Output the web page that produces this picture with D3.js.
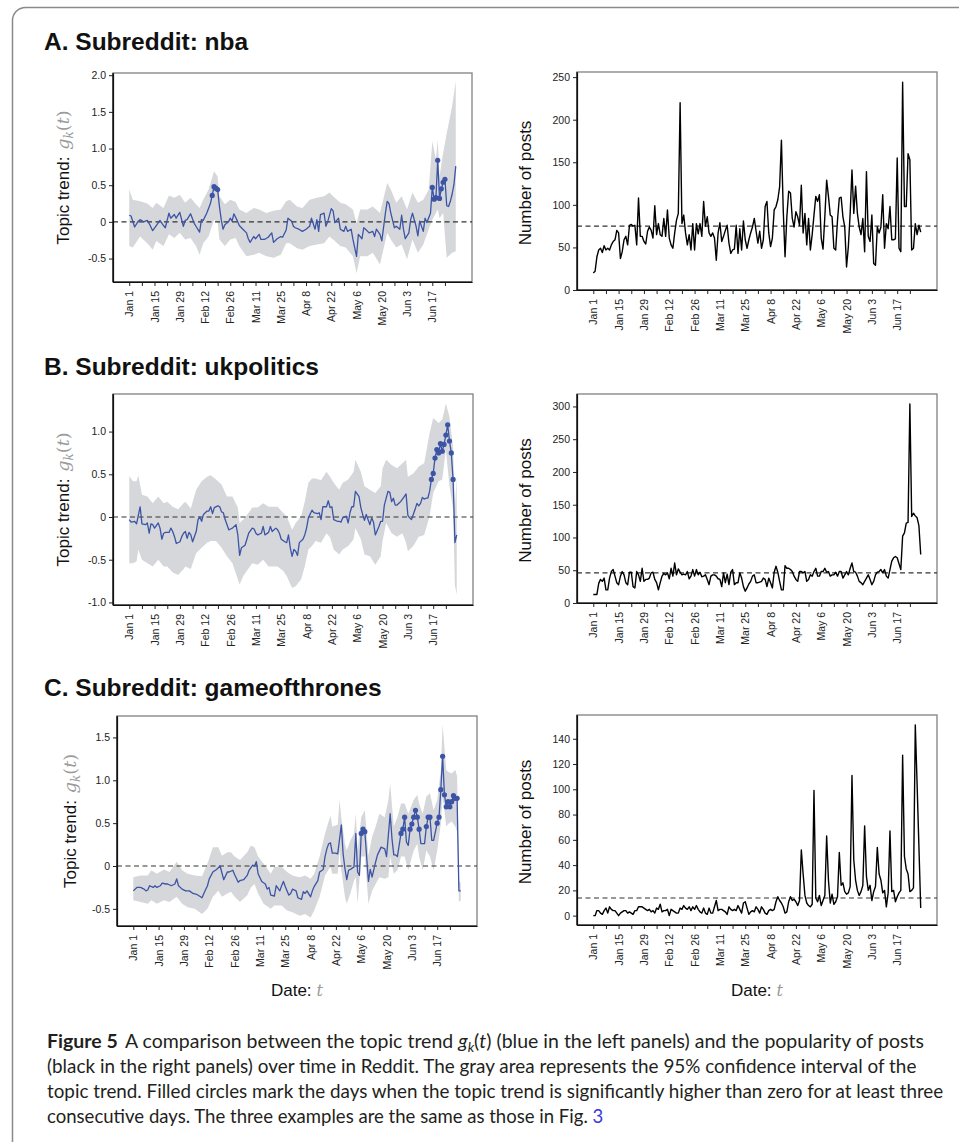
<!DOCTYPE html>
<html>
<head>
<meta charset="utf-8">
<script src="https://cdn.jsdelivr.net/npm/d3@7"></script>
<style>
  body { margin: 0; background: #fff; }
  svg { display: block; }
</style>
</head>
<body>
<svg id="fig" width="959" height="1142"></svg>
<script>
// ---- shared axis data ----
const dayLabels = ["Jan 1", "Jan 15", "Jan 29", "Feb 12", "Feb 26", "Mar 11", "Mar 25",
  "Apr 8", "Apr 22", "May 6", "May 20", "Jun 3", "Jun 17"];
const labelDays = [0, 14, 28, 42, 56, 70, 84, 98, 112, 126, 140, 154, 168];
const minorDays = [7, 21, 35, 49, 63, 77, 91, 105, 119, 133, 147, 161, 175];

// ---- A. nba ----
const nbaTrendTicks = [-0.5, 0, 0.5, 1.0, 1.5, 2.0];
const nbaPostTicks = [0, 50, 100, 150, 200, 250];
const nbaTrend = [[0,.09],[1,.08],[3,-.07],[5,.01],[6,.03],[8,0],[10,.02],[11,-.02],[13,-.12],[15,-.05],[17,.02],[19,-.05],[20,-.08],[22,.12],[23,.05],[25,.1],[26,.05],[28,.13],[30,-.06],[31,.02],[32,.03],[34,.11],[36,-.02],[37,-.06],[39,-.14],[40,.03],[41,.02],[43,.12],[45,.25],[46,.36],[47,.48],[48,.46],[49,.44],[50,.21],[51,.03],[52,-.1],[53,-.04],[55,0],[56,.05],[57,.01],[58,.11],[60,.01],[61,-.05],[63,-.1],[65,-.15],[66,-.23],[67,-.28],[69,-.2],[70,-.23],[72,-.17],[73,-.24],[75,-.24],[77,-.21],[79,-.15],[80,-.28],[82,-.23],[84,-.2],[85,-.21],[87,-.11],[88,.05],[90,.01],[91,-.06],[92,-.08],[94,-.1],[96,-.13],[98,-.1],[100,-.06],[101,.05],[103,-.1],[104,.03],[105,-.13],[106,.1],[108,.12],[109,-.06],[110,0],[112,.18],[113,.15],[114,-.01],[116,.05],[117,-.1],[119,-.13],[120,-.06],[121,-.13],[123,-.1],[124,-.24],[126,-.47],[127,-.17],[129,-.23],[130,-.08],[131,-.1],[133,-.15],[135,-.13],[136,-.2],[137,-.1],[139,-.17],[140,-.26],[142,.12],[143,.28],[144,.25],[145,.12],[147,-.08],[148,-.06],[150,-.1],[151,.09],[152,-.1],[153,-.23],[155,-.15],[156,.03],[157,.12],[159,-.06],[160,-.19],[161,.01],[163,-.13],[164,.05],[165,-.01],[167,.12],[168,.47],[169,.31],[170,.33],[171,.84],[172,.32],[173,.45],[174,.54],[175,.58],[176,.22],[177,.21],[178,.28],[179,.38],[180,.51],[181,.76]];
const nbaSig = [46, 47, 48, 49, 168, 169, 170, 171, 172, 173, 174, 175];
const nbaBand = [[0,-.33,.44],[2,-.35,.30],[6,-.20,.28],[10,-.29,.25],[13,-.38,.19],[15,-.26,.26],[19,-.33,.19],[22,-.17,.36],[25,-.22,.33],[28,-.15,.37],[31,-.24,.26],[34,-.22,.33],[37,-.33,.24],[39,-.45,.19],[41,-.29,.30],[44,-.20,.44],[47,.03,.69],[49,-.01,.62],[50,-.24,.35],[53,-.33,.24],[56,-.24,.30],[59,-.22,.27],[61,-.33,.17],[65,-.47,.12],[69,-.45,.19],[72,-.42,.17],[76,-.47,.12],[80,-.49,.15],[84,-.45,.17],[87,-.29,.28],[89,-.29,.30],[93,-.36,.21],[96,-.38,.19],[100,-.33,.30],[104,-.31,.33],[108,-.29,.35],[111,-.20,.40],[113,-.24,.35],[117,-.33,.26],[120,-.35,.24],[124,-.47,.17],[126,-.70,-.02],[128,-.47,.17],[132,-.47,.17],[135,-.42,.21],[139,-.58,.12],[143,-.15,.53],[145,-.24,.44],[148,-.35,.26],[151,-.31,.35],[154,-.51,.17],[157,-.24,.40],[160,-.42,.26],[163,-.31,.30],[166,-.10,.44],[168,.03,1.10],[170,.12,.85],[171,.17,1.12],[172,.05,.62],[174,.12,.94],[176,-.49,1.21],[179,-.42,1.58],[181,-.40,1.92]];
const nbaPosts = [20,22,39,47,49,44,52,47,49,47, 53,57,59,70,67,37,45,59,63,53,
  76,77,75,76,53,108,63,63,57,54, 69,74,70,61,99,65,78,65,63,84, 63,94,61,53,49,67,82,90,220,
  78,88,67,53,65,47,78,47,78,66, 78,63,104,75,86,67,63,67,61,35, 67,79,57,63,70,76,55,43,47,48,
  76,43,72,47,81,59,49,59,67,74, 84,69,55,69,49,59,98,104,67,51, 61,94,98,106,121,176,
  94,39,86,116,114,84,74,92,86,76, 123,67,90,53,84,47,65,88,110,104, 112,61,48,86,129,110,88,86,49,47,
  82,108,109,86,74,27,51,90,141, 90,122,90,74,65,84,45,139,63,57, 88,31,29,74,67,74,112,49,78,72,
  98,59,59,60,155,49,45,244, 98,98,160,153,47,49,78,65,76,68];
const nbaMean = 75;

// ---- B. ukpolitics ----
const ukTrendTicks = [-1.0, -0.5, 0, 0.5, 1.0];
const ukPostTicks = [0, 50, 100, 150, 200, 250, 300];
const ukTrend = [[0,-.03],[1,-.06],[3,-.05],[4,-.08],[5,.02],[6,.12],[7,-.08],[9,-.09],[10,-.07],[11,-.19],[12,-.08],[13,-.09],[14,-.13],[16,-.07],[17,-.13],[18,-.26],[19,-.19],[20,-.18],[22,-.18],[23,-.13],[24,-.17],[25,-.23],[26,-.31],[28,-.29],[29,-.23],[30,-.19],[31,-.17],[32,-.25],[33,-.18],[34,-.21],[35,-.29],[37,-.17],[38,-.03],[39,0],[40,-.05],[41,.03],[43,.07],[44,.07],[45,.12],[46,.04],[47,.11],[49,.13],[50,.12],[51,.06],[52,.05],[53,-.03],[55,-.15],[56,-.14],[57,-.13],[59,-.09],[60,-.21],[61,-.45],[62,-.36],[64,-.33],[65,-.26],[66,-.19],[68,-.13],[69,-.14],[70,-.19],[71,-.21],[73,-.19],[74,-.11],[75,-.21],[77,-.18],[78,-.11],[79,-.17],[81,-.13],[82,-.15],[83,-.19],[84,-.26],[86,-.29],[87,-.3],[88,-.21],[89,-.36],[90,-.46],[91,-.38],[92,-.4],[93,-.45],[94,-.3],[96,-.26],[97,-.21],[98,-.13],[99,-.01],[101,.08],[102,.05],[104,.04],[105,.05],[106,-.03],[107,.12],[109,.12],[110,.19],[111,.11],[112,.12],[113,-.03],[115,-.05],[116,-.05],[117,-.06],[118,-.01],[120,.01],[121,-.07],[122,.05],[123,.12],[124,.12],[125,.3],[127,.24],[128,.11],[129,.03],[130,-.04],[131,.03],[133,-.09],[134,-.01],[135,-.06],[136,-.21],[138,-.11],[139,-.05],[140,-.05],[141,.14],[143,.3],[144,.29],[145,.18],[146,.22],[147,.14],[148,.14],[149,.16],[150,.18],[152,.24],[153,.27],[154,.02],[155,-.01],[156,-.03],[158,.09],[159,.16],[160,.13],[161,.16],[162,.23],[163,.21],[164,.22],[165,.22],[166,.3],[167,.44],[168,.51],[169,.69],[170,.79],[171,.75],[172,.86],[173,.77],[174,.85],[175,.96],[176,1.08],[177,.89],[178,.75],[179,.44],[180,-.30],[181,-.21]];
const ukSig = [167, 168, 169, 170, 171, 172, 173, 174, 175, 176, 177, 178, 179];
const ukBand = [[0,-.54,.48],[2,-.54,.42],[4,-.52,.42],[5,-.38,.49],[7,-.50,.26],[10,-.54,.24],[13,-.58,.16],[16,-.50,.24],[19,-.58,.16],[21,-.58,.18],[24,-.65,.12],[27,-.68,.09],[30,-.61,.16],[31,-.58,.18],[34,-.61,.10],[37,-.42,.32],[40,-.36,.42],[43,-.30,.47],[45,-.28,.49],[48,-.28,.44],[51,-.36,.38],[54,-.46,.24],[57,-.54,.24],[60,-.73,.11],[61,-.79,-.07],[63,-.69,-.03],[66,-.60,.05],[68,-.54,.11],[71,-.56,.11],[74,-.50,.16],[77,-.58,.12],[80,-.58,.12],[82,-.58,.12],[85,-.63,.05],[87,-.69,.01],[90,-.83,-.15],[92,-.81,-.07],[95,-.73,.01],[97,-.58,.18],[99,-.38,.40],[101,-.34,.45],[103,-.28,.45],[106,-.30,.43],[109,-.19,.53],[111,-.24,.47],[113,-.38,.40],[116,-.44,.32],[118,-.38,.40],[121,-.34,.44],[124,-.26,.53],[125,-.13,.67],[128,-.26,.53],[130,-.44,.36],[133,-.46,.32],[136,-.56,.28],[139,-.46,.36],[140,-.28,.57],[142,-.07,.67],[145,-.19,.61],[148,-.23,.57],[151,-.19,.63],[153,-.30,.67],[154,-.40,.47],[157,-.34,.51],[160,-.23,.59],[163,-.21,.63],[166,.01,.98],[168,.28,1.16],[171,.42,1.10],[173,.44,1.14],[175,.79,1.33],[177,.36,1.17],[179,.09,.82],[180,-.80,.10],[181,-.91,.48]];
const ukPosts = [13,13,13,30,36,33,38,20,20,38, 48,51,41,31,28,41,48,43,31,28,
  47,47,25,23,48,43,33,53,33,36, 36,38,46,47,36,31,20,31,41,45, 43,46,37,53,41,61,43,52,47,43,
  44,43,48,37,41,51,41,51,43,47, 40,41,43,36,28,41,43,43,41,37, 36,25,46,31,44,28,47,51,28,31,
  31,46,38,25,18,23,29,33,41,43, 31,31,32,33,38,36,25,38,31,23, 47,56,47,33,20,20,57,53,53,51,
  48,41,36,33,48,48,46,48,33,36, 43,41,48,53,41,41,48,48,53,47, 48,41,43,43,47,41,48,48,38,43,
  48,43,53,61,48,47,41,33,31,28, 33,38,43,36,28,33,43,47,48,51, 46,51,41,38,51,64,69,71,69,60,
  51,102,107,122,123,304,132,137,133,130,118,74];
const ukMean = 46;

// ---- C. gameofthrones ----
const gotTrendTicks = [-0.5, 0, 0.5, 1.0, 1.5];
const gotPostTicks = [0, 20, 40, 60, 80, 100, 120, 140];
const gotTrend = [[0,-.29],[2,-.25],[4,-.25],[6,-.27],[7,-.29],[8,-.28],[9,-.23],[11,-.25],[12,-.23],[13,-.25],[15,-.23],[16,-.2],[18,-.21],[19,-.21],[21,-.23],[23,-.21],[24,-.15],[25,-.23],[27,-.27],[29,-.29],[31,-.29],[33,-.32],[35,-.33],[38,-.37],[39,-.32],[41,-.23],[42,-.15],[44,-.07],[46,-.04],[48,0],[50,-.16],[52,-.07],[53,-.07],[55,-.05],[56,-.1],[58,-.19],[59,-.17],[61,-.16],[63,-.11],[64,-.05],[66,.01],[67,0],[68,.05],[69,-.09],[71,-.18],[73,-.21],[74,-.27],[75,-.25],[76,-.34],[78,-.35],[79,-.23],[81,-.29],[82,-.23],[83,-.18],[84,-.24],[86,-.34],[87,-.32],[88,-.27],[90,-.29],[91,-.37],[93,-.39],[94,-.3],[95,-.32],[96,-.29],[98,-.36],[99,-.29],[100,-.24],[102,-.17],[103,-.07],[105,-.04],[106,.11],[107,.2],[108,.26],[109,.27],[110,.15],[112,.15],[113,.14],[115,.48],[116,.14],[117,-.03],[118,-.16],[119,-.05],[120,-.04],[122,-.01],[123,.38],[124,-.07],[125,-.11],[126,.38],[127,.43],[128,.4],[130,-.18],[131,-.04],[132,-.13],[134,.05],[135,.13],[137,.22],[139,.2],[140,.11],[142,.61],[143,.32],[144,.13],[145,.13],[146,.11],[148,.38],[149,.43],[150,.57],[151,.28],[152,.24],[153,.43],[154,.49],[155,.57],[156,.65],[157,.57],[158,.43],[159,.26],[161,.26],[162,.46],[163,.57],[164,.57],[165,.3],[166,.3],[168,.5],[169,.57],[170,.89],[171,1.28],[172,.83],[173,.69],[174,.75],[175,.69],[176,.75],[177,.82],[178,.79],[179,.79],[180,-.29],[181,-.29]];
const gotSig = [126, 127, 128, 148, 149, 150, 153, 154, 155, 156, 157, 158, 162, 163, 164,
  168, 169, 170, 171, 172, 173, 174, 175, 176, 177, 178, 179];
const gotBand = [[0,-.40,-.13],[4,-.42,-.11],[8,-.44,-.11],[10,-.40,-.05],[13,-.44,-.09],[17,-.40,-.04],[20,-.42,-.07],[24,-.36,.05],[27,-.44,-.05],[30,-.48,-.09],[34,-.50,-.11],[38,-.56,-.12],[41,-.50,.03],[44,-.36,.22],[47,-.29,.22],[49,-.36,.12],[52,-.32,.16],[54,-.30,.16],[56,-.36,.11],[59,-.42,.07],[63,-.34,.16],[65,-.25,.24],[67,-.21,.22],[69,-.32,.11],[72,-.44,.03],[76,-.50,-.09],[78,-.46,-.01],[82,-.46,-.01],[85,-.52,-.07],[88,-.54,-.11],[92,-.58,-.13],[95,-.56,-.11],[98,-.60,-.15],[100,-.52,-.09],[103,-.36,.11],[106,-.11,.38],[109,-.01,.59],[110,-.09,.46],[113,-.09,.48],[114,.18,.77],[115,-.05,.57],[117,-.36,.26],[118,-.44,.18],[120,-.32,.30],[122,-.17,.38],[123,-.13,.61],[124,-.44,.18],[126,.11,.57],[128,.11,.65],[130,-.44,.12],[132,-.29,.34],[134,-.21,.46],[136,-.13,.61],[139,-.15,.57],[141,-.13,.77],[142,.11,.96],[144,-.09,.46],[146,-.05,.57],[148,.11,.73],[150,.11,.73],[152,-.05,.61],[155,.18,.77],[157,.26,.83],[158,.11,.73],[160,-.05,.61],[162,.18,.81],[164,.11,.85],[166,-.05,.65],[168,.18,.77],[170,.49,1.12],[171,.81,1.65],[173,.46,1.12],[174,.49,1.10],[176,.52,1.08],[178,.46,1.12],[179,.40,1.05],[180,-.42,-.17],[181,-.40,-.20]];
const gotPosts = [0,0,4,4,2,1,4,6,2,7, 5,4,4,2,0,2,3,4,4,2, 3,2,1,4,4,7,7,7,6,5,
  4,5,3,4,2,6,5,9,3,4, 4,5,0,5,4,3,2,2,6,5, 8,6,5,7,4,7,5,8,5,3, 2,6,2,1,6,2,2,7,12,4,
  5,5,4,3,1,7,5,4,5,4, 8,5,2,10,11,6,1,3,4,3, 7,5,2,7,5,2,1,4,5,4, 5,11,15,12,10,7,2,3,11,15,
  12,13,11,8,12,52,33,16,10,8, 7,9,99,14,11,16,8,12,16,63, 28,10,17,9,11,15,50,24,26,19,
  17,18,23,111,44,28,20,16,19,24, 71,31,20,24,12,19,23,54,33,28, 18,20,7,18,67,19,20,11,15,18,
  20,127,47,37,33,19,20,22,151,104,55,6];
const gotMean = 14;

const titles = ["A. Subreddit: nba", "B. Subreddit: ukpolitics", "C. Subreddit: gameofthrones"];

// ---- layout ----
const FONT = "'Liberation Sans', Arial, Helvetica, sans-serif";
const BLUE = "#3c54a5";
const BAND = "#d6d7da";
const dayDomain = [-9, 190];

const svg = d3.select("#fig");

// rounded figure border
svg.append("path")
  .attr("d", "M12.5,1170 V20.5 A13,13 0 0 1 25.5,7.5 H990")
  .attr("fill", "none").attr("stroke", "#8a8a8a").attr("stroke-width", 1.5);

const titleY = [50, 375, 696];
titles.forEach((t, i) => {
  svg.append("text").attr("x", 44).attr("y", titleY[i])
    .attr("font-family", FONT).attr("font-weight", "bold").attr("font-size", 24.5)
    .attr("fill", "#111").text(t);
});

const trendPanels = [
  { box: { x: 113, y: 73, w: 359, h: 209 }, yDomain: [-0.82, 2.03], ticks: nbaTrendTicks, trend: nbaTrend, band: nbaBand, sig: nbaSig, labelX: 69 },
  { box: { x: 113, y: 394, w: 360, h: 211 }, yDomain: [-1.03, 1.44], ticks: ukTrendTicks, trend: ukTrend, band: ukBand, sig: ukSig, labelX: 69 },
  { box: { x: 117, y: 716, w: 360, h: 210 }, yDomain: [-0.70, 1.75], ticks: gotTrendTicks, trend: gotTrend, band: gotBand, sig: gotSig, labelX: 76, dateLabel: true }
];
const postPanels = [
  { box: { x: 577, y: 72, w: 360, h: 218 }, yDomain: [0, 256], ticks: nbaPostTicks, posts: nbaPosts, mean: nbaMean },
  { box: { x: 577, y: 394, w: 360, h: 209 }, yDomain: [0, 319], ticks: ukPostTicks, posts: ukPosts, mean: ukMean },
  { box: { x: 577, y: 715, w: 360, h: 210 }, yDomain: [-7.4, 158.8], ticks: gotPostTicks, posts: gotPosts, mean: gotMean, dateLabel: true }
];

function styleAxis(g) {
  g.selectAll("text").attr("font-family", FONT).attr("font-size", 10.5).attr("fill", "#222");
  g.selectAll("line").attr("stroke", "#222");
  g.select(".domain").attr("stroke", "#111").attr("stroke-width", 1.2);
}

function drawFrame(box) {
  svg.append("rect").attr("x", box.x).attr("y", box.y).attr("width", box.w).attr("height", box.h)
    .attr("fill", "none").attr("stroke", "#8a8a8a").attr("stroke-width", 1.4);
}

function drawAxes(box, x, y, ticks, fmt) {
  const gx = svg.append("g").attr("transform", `translate(0,${box.y + box.h})`);
  gx.call(d3.axisBottom(x).tickValues(labelDays).tickFormat((d, i) => dayLabels[i])
    .tickSize(4).tickSizeOuter(0));
  gx.selectAll(".tick text")
    .attr("transform", "rotate(-90)").attr("text-anchor", "end")
    .attr("x", -9).attr("y", 0).attr("dy", "0.35em");
  styleAxis(gx);
  const gm = svg.append("g").attr("transform", `translate(0,${box.y + box.h})`);
  gm.call(d3.axisBottom(x).tickValues(minorDays).tickFormat("").tickSize(4).tickSizeOuter(0));
  gm.select(".domain").remove();
  gm.selectAll("line").attr("stroke", "#222");

  const gy = svg.append("g").attr("transform", `translate(${box.x},0)`);
  gy.call(d3.axisLeft(y).tickValues(ticks).tickFormat(fmt).tickSize(4).tickPadding(3).tickSizeOuter(0));
  styleAxis(gy);
  // left spine and bottom spine over the whole frame
  svg.append("line").attr("x1", box.x).attr("x2", box.x).attr("y1", box.y).attr("y2", box.y + box.h)
    .attr("stroke", "#111").attr("stroke-width", 1.2);
  svg.append("line").attr("x1", box.x).attr("x2", box.x + box.w).attr("y1", box.y + box.h).attr("y2", box.y + box.h)
    .attr("stroke", "#111").attr("stroke-width", 1.2);
}

function dateLabel(box) {
  const t = svg.append("text").attr("x", box.x + box.w / 2).attr("y", 996)
    .attr("text-anchor", "middle").attr("font-family", FONT).attr("font-size", 17).attr("fill", "#111");
  t.append("tspan").text("Date:");
  t.append("tspan").attr("dx", 5).attr("font-family", "'DejaVu Serif', serif").attr("font-style", "italic")
    .attr("font-size", 16).attr("fill", "#9a9a9a").text("t");
}

const trendFmt = d => d === 0 ? "0" : d.toFixed(1);

trendPanels.forEach(p => {
  const { box } = p;
  const x = d3.scaleLinear().domain(dayDomain).range([box.x, box.x + box.w]);
  const y = d3.scaleLinear().domain(p.yDomain).range([box.y + box.h, box.y]);

  drawFrame(box);

  svg.append("path").datum(p.band)
    .attr("d", d3.area().x(d => x(d[0])).y0(d => y(d[1])).y1(d => y(d[2])))
    .attr("fill", BAND);

  svg.append("line").attr("x1", box.x).attr("x2", box.x + box.w)
    .attr("y1", y(0)).attr("y2", y(0))
    .attr("stroke", "#333").attr("stroke-width", 1.1).attr("stroke-dasharray", "5,3.5");

  svg.append("path").datum(p.trend)
    .attr("d", d3.line().x(d => x(d[0])).y(d => y(d[1])))
    .attr("fill", "none").attr("stroke", BLUE).attr("stroke-width", 1.3).attr("stroke-linejoin", "round");

  const lookup = new Map(p.trend.map(d => [d[0], d[1]]));
  svg.append("g").selectAll("circle").data(p.sig).join("circle")
    .attr("cx", d => x(d)).attr("cy", d => y(lookup.get(d)))
    .attr("r", 2.6).attr("fill", BLUE);

  drawAxes(box, x, y, p.ticks, trendFmt);

  const cy = box.y + box.h / 2;
  const lab = svg.append("text").attr("transform", `translate(${p.labelX},${cy}) rotate(-90)`)
    .attr("text-anchor", "middle").attr("font-family", FONT).attr("font-size", 17).attr("fill", "#111");
  lab.append("tspan").text("Topic trend:");
  const math = { fam: "'DejaVu Serif', serif", col: "#9a9a9a" };
  lab.append("tspan").attr("dx", 7).attr("font-family", math.fam).attr("font-style", "italic")
    .attr("font-size", 17.5).attr("fill", math.col).text("g");
  lab.append("tspan").attr("dy", 4).attr("font-family", math.fam).attr("font-style", "italic")
    .attr("font-size", 12).attr("fill", math.col).text("k");
  lab.append("tspan").attr("dy", -4).attr("font-family", math.fam)
    .attr("font-size", 17.5).attr("fill", math.col).text("(");
  lab.append("tspan").attr("font-family", math.fam).attr("font-style", "italic")
    .attr("font-size", 17.5).attr("fill", math.col).text("t");
  lab.append("tspan").attr("font-family", math.fam)
    .attr("font-size", 17.5).attr("fill", math.col).text(")");

  if (p.dateLabel) dateLabel(box);
});

postPanels.forEach(p => {
  const { box } = p;
  const x = d3.scaleLinear().domain(dayDomain).range([box.x, box.x + box.w]);
  const y = d3.scaleLinear().domain(p.yDomain).range([box.y + box.h, box.y]);

  drawFrame(box);

  svg.append("line").attr("x1", box.x).attr("x2", box.x + box.w)
    .attr("y1", y(p.mean)).attr("y2", y(p.mean))
    .attr("stroke", "#333").attr("stroke-width", 1.1).attr("stroke-dasharray", "5,3.5");

  svg.append("path").datum(p.posts)
    .attr("d", d3.line().x((d, i) => x(i)).y(d => y(d)))
    .attr("fill", "none").attr("stroke", "#000").attr("stroke-width", 1.4).attr("stroke-linejoin", "round");

  drawAxes(box, x, y, p.ticks, d3.format("d"));

  const cy = box.y + box.h / 2;
  svg.append("text").attr("transform", `translate(531,${cy + 2}) rotate(-90)`)
    .attr("text-anchor", "middle").attr("font-family", FONT).attr("font-size", 17).attr("fill", "#111")
    .text("Number of posts");

  if (p.dateLabel) dateLabel(box);
});

// ---- caption ----
const CAP = "Lato, 'Open Sans', sans-serif";
const capX = 47;
const capLines = [
  { y: 1048, right: 917 },
  { y: 1073, right: 917 },
  { y: 1098, right: 944 },
  { y: 1123, right: 604 }
];
const capText = [
  [{ t: "Figure 5", b: true }, { t: "A comparison between the topic trend ", dx: 7 }, { t: "g", i: true },
   { t: "k", i: true, sub: true }, { t: "(", up: true }, { t: "t", i: true }, { t: ") (blue in the left panels) and the popularity of posts" }],
  [{ t: "(black in the right panels) over time in Reddit. The gray area represents the 95% confidence interval of the" }],
  [{ t: "topic trend. Filled circles mark the days when the topic trend is significantly higher than zero for at least three" }],
  [{ t: "consecutive days. The three examples are the same as those in Fig. " }, { t: "3", link: true }]
];
capText.forEach((parts, li) => {
  const L = capLines[li];
  const txt = svg.append("text").attr("font-family", CAP).attr("font-size", 18.5).attr("fill", "#231f20")
    .attr("transform", `translate(${capX},${L.y})`);
  parts.forEach(p => {
    const ts = txt.append("tspan").text(p.t);
    if (p.b) ts.attr("font-weight", "bold");
    if (p.i) ts.attr("font-style", "italic");
    if (p.dx) ts.attr("dx", p.dx);
    if (p.sub) ts.attr("dy", 4).attr("font-size", 13);
    if (p.up) ts.attr("dy", -4);
    if (p.link) ts.attr("fill", "#3a3ae0");
  });
  const w = txt.node().getComputedTextLength();
  const s = (L.right - capX) / w;
  txt.attr("transform", `translate(${capX},${L.y}) scale(${s},1)`);
});
</script>
</body>
</html>
